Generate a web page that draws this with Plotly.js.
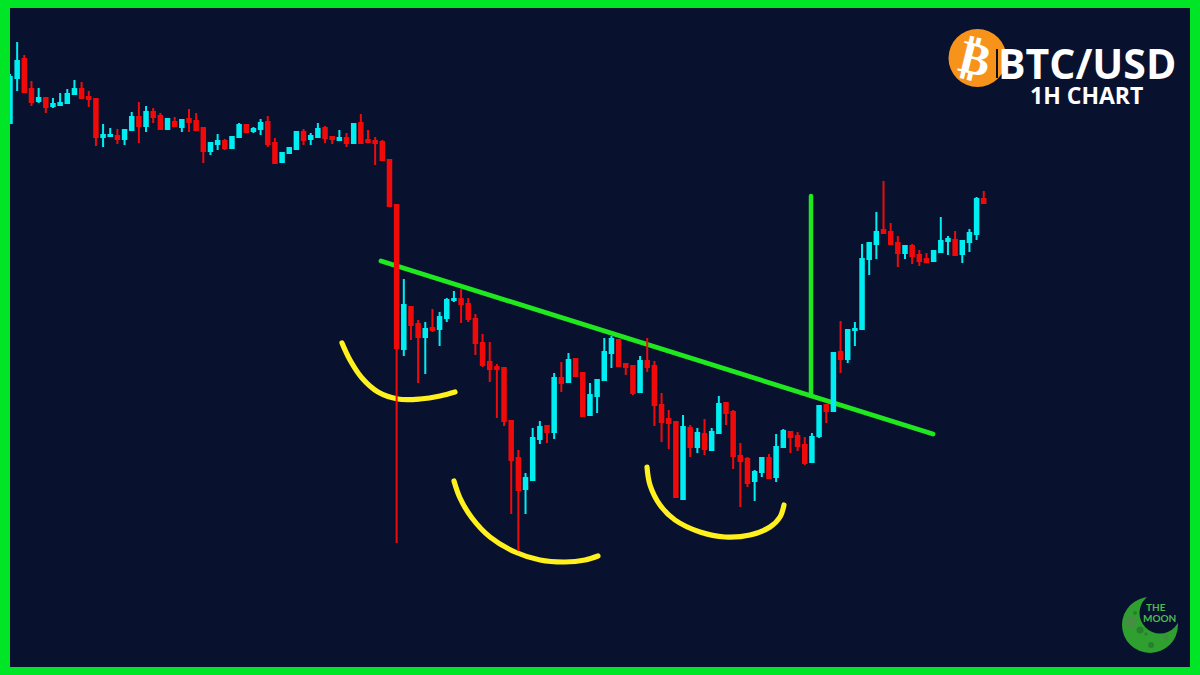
<!DOCTYPE html>
<html>
<head>
<meta charset="utf-8">
<script src="https://cdn.plot.ly/plotly-3.0.1.min.js"></script>
<style>
html,body{margin:0;padding:0;background:#00e626;}
#chart{width:1200px;height:675px;}
.js-line{stroke-linecap:round;}
</style>
</head>
<body>
<div id="chart"></div>
<script>
// Candle values: picture rows (smaller = higher on the chart)
const openRow = [123,78,59,89,101,98,106,105,103,94,89,97,99,137,136,136,139,130,117,126,112,116,129,122,127,119,121,
128,151,144,141,148,137,125,131,129,122,143,162,153,149,132,139,137,128,137,140,138,143,123,140,141,142,160,205,
349,307,324,337,328,329,318,300,299,304,319,343,362,367,368,421,458,489,480,439,426,432,378,382,359,373,415,396,380,353,340,364,366,392,361,366,405,419,422,499,428,447,434,450,433,
403,412,456,459,481,472,458,477,447,432,436,445,462,436,405,411,352,359,330,329,259,244,230,232,243,253,246,255,259,261,252,241,240,254,242,234,199];
const closeRow = [77,61,92,102,98,107,104,103,94,89,98,99,137,135,135,139,130,117,126,112,117,129,119,126,120,122,130,
151,143,141,148,137,125,132,129,123,144,163,153,148,132,140,136,129,138,139,138,143,124,143,142,143,160,206,348,
305,325,337,329,330,317,300,299,304,319,343,365,369,369,421,460,490,478,438,427,432,378,383,360,376,416,395,380,352,339,366,367,393,361,367,405,422,423,497,427,447,433,449,432,404,
413,456,461,483,472,458,478,447,431,437,446,463,437,406,411,353,359,330,329,259,243,232,233,244,253,246,256,261,262,251,241,239,255,241,233,199,203];
const highRow = [74,42,55,81,88,98,98,93,89,80,82,91,99,124,128,129,130,112,102,106,108,113,118,117,120,109,113,
127,143,134,139,137,123,124,127,119,116,138,152,147,132,129,133,123,126,137,130,133,124,114,130,137,140,160,205,
279,307,320,322,309,312,298,291,289,298,314,334,342,364,368,421,450,473,428,421,426,373,362,353,358,373,383,380,338,336,340,363,366,356,338,361,393,410,422,415,425,428,419,428,396,
402,410,443,457,470,457,454,434,429,431,432,437,433,405,404,352,321,330,322,244,243,212,181,223,236,246,244,250,253,251,217,236,231,241,229,197,191];
const lowRow = [123,91,92,106,103,113,108,106,103,94,98,107,146,147,137,144,145,131,143,132,123,129,130,127,132,132,130,
163,155,150,150,149,137,132,133,135,147,163,162,153,149,145,145,137,143,144,140,147,143,143,143,165,160,206,543,
356,340,383,374,332,346,322,302,323,322,355,367,382,418,426,514,551,514,480,444,443,439,392,382,376,416,415,413,380,368,366,375,395,392,372,426,442,449,497,500,457,453,455,450,433,
425,469,507,487,501,477,478,482,447,453,451,465,462,438,423,411,373,363,346,329,275,259,233,245,267,259,264,266,263,261,252,255,255,263,252,240,203];

// Pattern annotations, in picture pixels
const necklineX = [381,933];
const necklineY = [261,434];
const targetX = [811,811];
const targetY = [196,396];
const leftShoulderX = [342,350,362,378,398,420,440,455];
const leftShoulderY = [343,360,378,392,399,399,396,392];
const headX = [454,460,472,490,515,540,565,585,598];
const headY = [481,498,518,537,552,560,562,560,556];
const rightShoulderX = [647,650,660,675,700,725,750,770,780,784];
const rightShoulderY = [467,485,505,520,532,537,535,527,517,505];

const candleStep = 7.16;
const index = openRow.map((_, i) => i);
const level = r => 675 - r;

const curve = (x, y, color, w) => ({
  type:'scatter', mode:'lines', x, y, xaxis:'x', yaxis:'y', hoverinfo:'skip',
  line:{color, width:w, shape:'spline', smoothing:1}
});

const traces = [
  curve(necklineX, necklineY, '#1fe81f', 4.8),
  curve(targetX, targetY, '#1fe81f', 4.5),
  curve(leftShoulderX, leftShoulderY, '#fff01e', 5.2),
  curve(headX, headY, '#fff01e', 5.2),
  curve(rightShoulderX, rightShoulderY, '#fff01e', 5.2),
  {
    type:'candlestick', x:index, xaxis:'x2', yaxis:'y2',
    open:openRow.map(level), high:highRow.map(level), low:lowRow.map(level), close:closeRow.map(level),
    width:0.56, whiskerwidth:0, hoverinfo:'skip',
    increasing:{line:{color:'#00eef2',width:2}, fillcolor:'#00eef2'},
    decreasing:{line:{color:'#f00a0a',width:2}, fillcolor:'#f00a0a'}
  }
];

const hidden = {visible:false, showgrid:false, zeroline:false, fixedrange:true};
const moonGreen = '#2f9f2f', crater = '#26802e', bg = '#08122f';
const disc = (cx, cy, r, fill) => ({type:'circle', xref:'x', yref:'y', x0:cx-r, x1:cx+r, y0:cy-r, y1:cy+r,
  fillcolor:fill, line:{width:0}, layer:'above'});

const layout = {
  width:1200, height:675, showlegend:false,
  margin:{l:10, r:10, t:8, b:8, pad:0},
  paper_bgcolor:'#00e626', plot_bgcolor:bg,
  xaxis:Object.assign({range:[10,1190]}, hidden),
  yaxis:Object.assign({range:[667,8]}, hidden),
  xaxis2:Object.assign({overlaying:'x', range:[0,1180/candleStep], rangeslider:{visible:false}}, hidden),
  yaxis2:Object.assign({overlaying:'y', range:[8,667]}, hidden),
  shapes:[
    disc(977.5,58,29,'#f7931a'),
    {type:'line', xref:'x', yref:'y', x0:997, x1:997, y0:49, y1:78, line:{color:'#0a0f1e',width:2}, layer:'above'},
    disc(1150,625,28,moonGreen),
    disc(1160,613,20.5,bg),
    disc(1131,622,6,'#458f45'),
    disc(1140,630,3.5,crater),
    disc(1135,613,2,crater),
    disc(1146,634,1.6,crater),
    disc(1151,645,3,crater),
    disc(1166,637,2.5,'#3d8f3d')
  ],
  annotations:[
    {xref:'x',yref:'y',x:975,y:58,text:'<b>₿</b>',showarrow:false,textangle:14,
      font:{family:'DejaVu Sans',size:46,color:'#ffffff'}},
    {xref:'x',yref:'y',x:1087,y:63,text:'<b>BTC/USD</b>',showarrow:false,
      font:{family:'Open Sans',size:41,color:'#ffffff'}},
    {xref:'x',yref:'y',x:1086,y:95,text:'<b>1H CHART</b>',showarrow:false,
      font:{family:'Open Sans',size:23,color:'#ffffff'}},
    {xref:'x',yref:'y',x:1156,y:607,text:'<b>THE</b>',showarrow:false,
      font:{family:'Lato',size:10,color:'#4fb84f'}},
    {xref:'x',yref:'y',x:1159,y:618,text:'<b>MOON</b>',showarrow:false,
      font:{family:'Lato',size:10,color:'#4fb84f'}}
  ]
};

Plotly.newPlot('chart', traces, layout, {displayModeBar:false, staticPlot:true});
</script>
</body>
</html>
